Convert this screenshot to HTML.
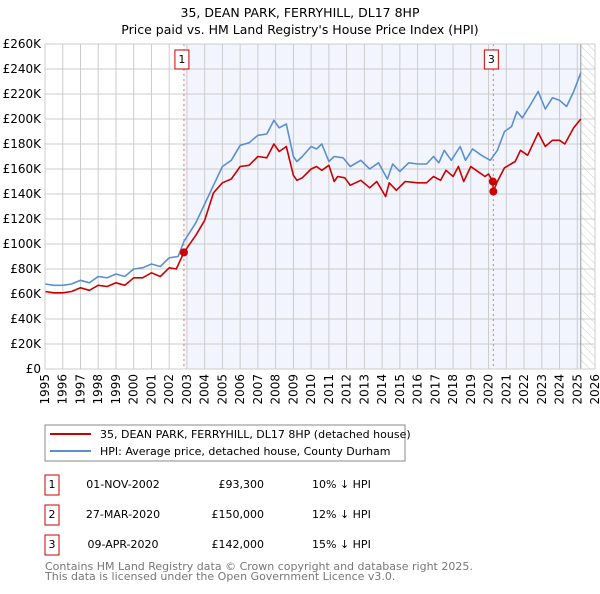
<!DOCTYPE html>
<html><head><meta charset="utf-8"><style>
body{margin:0;background:#fff;width:600px;height:590px;overflow:hidden;font-family:"DejaVu Sans","Liberation Sans",sans-serif}
svg text{font-family:"DejaVu Sans","Liberation Sans",sans-serif}
</style></head><body>
<svg id="c" width="600" height="590">
<text x="300" y="17" text-anchor="middle" font-size="12.5">35, DEAN PARK, FERRYHILL, DL17 8HP</text>
<text x="300" y="34" text-anchor="middle" font-size="12.5">Price paid vs. HM Land Registry's House Price Index (HPI)</text>
<defs><pattern id="hatch" width="6" height="6" patternUnits="userSpaceOnUse" patternTransform="rotate(-45)"><line x1="0" y1="0" x2="0" y2="6" stroke="#ccc" stroke-width="1"/></pattern></defs>
<g id="plot"></g>
<g>
<rect x="45" y="425" width="360" height="36" fill="#fff" stroke="#888"/>
<line x1="50" y1="434" x2="91" y2="434" stroke="#cc0000" stroke-width="2"/>
<text x="100" y="438" font-size="11">35, DEAN PARK, FERRYHILL, DL17 8HP (detached house)</text>
<line x1="50" y1="451" x2="91" y2="451" stroke="#5b8fd0" stroke-width="2"/>
<text x="100" y="455" font-size="11">HPI: Average price, detached house, County Durham</text>
</g>
<g font-size="11">
<rect x="45" y="475" width="14" height="20" fill="none" stroke="#cc0000"/><text x="52" y="488" text-anchor="middle">1</text>
<text x="123" y="488" text-anchor="middle">01-NOV-2002</text><text x="264" y="488" text-anchor="end">£93,300</text><text x="312" y="488">10% ↓ HPI</text>
<rect x="45" y="505" width="14" height="20" fill="none" stroke="#cc0000"/><text x="52" y="518" text-anchor="middle">2</text>
<text x="123" y="518" text-anchor="middle">27-MAR-2020</text><text x="264" y="518" text-anchor="end">£150,000</text><text x="312" y="518">12% ↓ HPI</text>
<rect x="45" y="535" width="14" height="20" fill="none" stroke="#cc0000"/><text x="52" y="548" text-anchor="middle">3</text>
<text x="123" y="548" text-anchor="middle">09-APR-2020</text><text x="264" y="548" text-anchor="end">£142,000</text><text x="312" y="548">15% ↓ HPI</text>
</g>
<text x="45" y="570" font-size="11" fill="#777">Contains HM Land Registry data © Crown copyright and database right 2025.</text>
<text x="45" y="580" font-size="11" fill="#777">This data is licensed under the Open Government Licence v3.0.</text>
</svg>
<script>
const hpiYears=[1995,1995.5,1996,1996.5,1997,1997.5,1998,1998.5,1999,1999.5,2000,2000.5,2001,2001.5,2002,2002.5,2002.83,2003.5,2004,2004.5,2005,2005.5,2006,2006.5,2007,2007.5,2007.9,2008.2,2008.6,2009,2009.2,2009.5,2010,2010.3,2010.6,2011,2011.3,2011.8,2012.2,2012.8,2013.3,2013.8,2014.3,2014.6,2015,2015.5,2016,2016.5,2016.9,2017.2,2017.5,2017.9,2018.4,2018.7,2019.1,2019.6,2020.1,2020.5,2020.9,2021.3,2021.6,2021.9,2022.3,2022.8,2023.2,2023.6,2024,2024.4,2024.8,2025.2];
const hpiValues=[68,67,67,68,71,69,74,73,76,74,80,81,84,82,89,90,102,117,132,147,162,167,179,181,187,188,199,193,196,170,166,170,178,176,180,166,170,169,162,167,160,165,152,164,158,165,164,164,170,165,175,167,178,167,176,171,167,175,190,194,206,201,210,222,208,217,215,210,222,237];
const priceYears=[1995,1995.5,1996,1996.5,1997,1997.5,1998,1998.5,1999,1999.5,2000,2000.5,2001,2001.5,2002,2002.4,2002.83,2003.5,2004,2004.5,2005,2005.5,2006,2006.5,2007,2007.5,2007.9,2008.2,2008.6,2009,2009.2,2009.5,2010,2010.3,2010.6,2011,2011.3,2011.5,2011.9,2012.2,2012.8,2013.3,2013.7,2014.2,2014.4,2014.8,2015.3,2016,2016.5,2016.9,2017.3,2017.6,2018,2018.3,2018.6,2019,2019.3,2019.8,2020,2020.24,2020.27,2020.5,2020.9,2021.5,2021.8,2022.2,2022.8,2023.2,2023.6,2024,2024.3,2024.8,2025.2];
const priceValues=[62,61,61,62,65,63,67,66,69,67,73,73,77,74,81,80,93.3,107,119,141,149,152,162,163,170,169,180,174,178,155,151,153,160,162,159,163,150,154,153,147,151,145,150,138,149,143,150,149,149,154,151,159,154,162,150,162,159,154,156,150,142,150,161,166,175,171,189,178,183,183,180,193,200];
const saleYears=[2002.83,2020.24,2020.27];
const saleValues=[93.3,150,142];
const saleLabels=["1","2","3"];
const yTicks=[0,20,40,60,80,100,120,140,160,180,200,220,240,260];
const xTicks=[1995,1996,1997,1998,1999,2000,2001,2002,2003,2004,2005,2006,2007,2008,2009,2010,2011,2012,2013,2014,2015,2016,2017,2018,2019,2020,2021,2022,2023,2024,2025,2026];

const X0=45,X1=595,Y0=369,Y1=44;
const xs=y=>X0+(y-1995)*(X1-X0)/31;
const ys=v=>Y0-v*(Y0-Y1)/260;
const NS="http://www.w3.org/2000/svg";
const g=document.getElementById('plot');
function mk(t,a){const e=document.createElementNS(NS,t);for(const k in a)e.setAttribute(k,a[k]);g.appendChild(e);return e;}
let e;
e=mk('rect',{x:xs(saleYears[0]),y:Y1,width:xs(2025.2)-xs(saleYears[0]),height:Y0-Y1,fill:'#f2f5fd'});


e=mk('rect',{x:xs(2025.2),y:Y1,width:X1-xs(2025.2),height:Y0-Y1,fill:'url(#hatch)'});


yTicks.forEach(v=>{
 e=mk('line',{x1:X0,x2:X1,y1:ys(v),y2:ys(v),stroke:'#ccc','stroke-width':1});
 
 
 e=mk('text',{x:X0-4,y:ys(v)+4,'text-anchor':'end','font-size':12});
 e.textContent=v===0?'£0':'£'+v+'K';
 
 
});
xTicks.forEach(y=>{
 e=mk('line',{x1:xs(y),x2:xs(y),y1:Y1,y2:Y0,stroke:'#ccc','stroke-width':1});
 
 
 e=mk('text',{x:0,y:0,'text-anchor':'end','font-size':12,transform:`translate(${xs(y)+4},${Y0+5}) rotate(-90)`});
 e.textContent=y;
 
 
});
e=mk('line',{x1:xs(2025.2),x2:xs(2025.2),y1:Y1,y2:Y0,stroke:'#999','stroke-width':1});


[0,2].forEach(i=>{
 e=mk('line',{x1:xs(saleYears[i]),x2:xs(saleYears[i]),y1:Y1,y2:Y0,stroke:'#f07070','stroke-width':1,'stroke-dasharray':'2,3'});
 
 
 e=mk('rect',{x:xs(saleYears[i])-9,y:50,width:14,height:19,fill:'#fff',stroke:'#cc0000'});
 
 
 e=mk('text',{x:xs(saleYears[i])-2,y:63,'text-anchor':'middle','font-size':11});
 e.textContent=saleLabels[i];
 
 
});
const path=(xa,va)=>xa.map((x,i)=>(i?'L':'M')+xs(x).toFixed(1)+','+ys(va[i]).toFixed(1)).join('');
e=mk('path',{d:path(hpiYears,hpiValues),fill:'none',stroke:'#5b8fd0','stroke-width':1.6,'stroke-linejoin':'round'});


e=mk('path',{d:path(priceYears,priceValues),fill:'none',stroke:'#cc0000','stroke-width':1.6,'stroke-linejoin':'round'});


saleYears.forEach((y,i)=>{
 e=mk('circle',{cx:xs(y),cy:ys(saleValues[i]),r:4,fill:'#cc0000'});
 
 
});
e=mk('rect',{x:X0,y:Y1,width:X1-X0,height:Y0-Y1,fill:'none',stroke:'#ccc'});


</script>
</body></html>
